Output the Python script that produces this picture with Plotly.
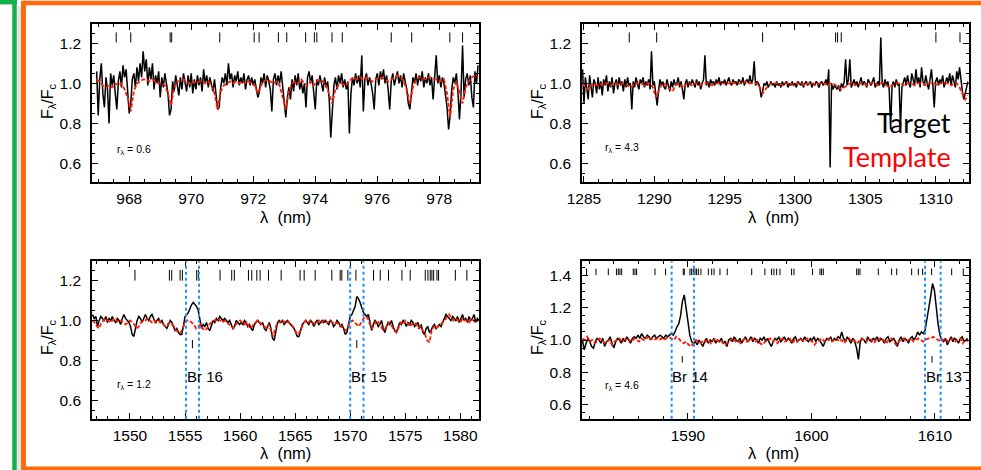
import numpy as np
import plotly.graph_objects as go

W, H = 981, 470

# ---------------- Panel 1 (966.8 - 979.3 nm) ----------------
p1_start, p1_step = 966.95, 0.05
p1_target = [
    1.06, 0.84, 1.02, 1.10, 0.95, 0.88, 1.03, 0.97, 0.80, 1.05, 0.99, 1.04, 0.95, 0.87, 1.01, 1.06, 0.98, 1.09, 1.03, 1.07,
    0.96, 0.85, 0.90, 1.02, 1.05, 0.98, 1.08, 1.01, 1.10, 1.03, 1.16, 1.06, 1.12, 0.99, 1.08, 1.02, 1.10, 0.97, 1.04, 1.00,
    1.06, 0.93, 1.03, 0.98, 1.05, 1.00, 0.95, 0.84, 0.87, 1.01, 0.96, 1.04, 0.99, 0.94, 1.03, 0.97, 1.05, 1.00, 0.96, 1.04,
    0.98, 1.05, 0.95, 1.02, 0.97, 1.04, 0.99, 1.03, 0.96, 1.07, 1.00, 1.04, 0.98, 1.03, 1.00, 0.96, 1.02, 0.95, 0.87, 0.88,
    0.98, 1.03, 1.00, 1.05, 0.99, 1.10, 1.02, 1.05, 0.98, 1.04, 1.01, 1.06, 0.99, 1.03, 1.00, 1.05, 0.97, 1.02, 1.04, 0.99,
    1.03, 0.99, 1.02, 0.97, 0.93, 0.96, 1.03, 1.00, 1.05, 0.98, 1.04, 1.01, 0.97, 0.86, 1.02, 1.05, 0.99, 1.04, 1.00, 1.06,
    0.97, 0.88, 0.83, 0.93, 0.98, 0.92, 1.02, 0.96, 1.04, 0.99, 1.05, 0.97, 1.01, 0.95, 1.00, 0.88, 1.03, 1.06, 1.00, 1.04,
    0.96, 0.87, 1.02, 0.99, 1.04, 1.00, 0.96, 1.03, 0.98, 1.01, 0.92, 0.73, 0.85, 0.99, 1.03, 0.97, 1.04, 1.00, 1.05, 0.98,
    1.02, 0.97, 1.01, 0.75, 0.95, 1.03, 0.99, 1.05, 1.00, 1.04, 0.98, 1.14, 0.86, 1.02, 1.05, 0.99, 1.03, 1.00, 0.95, 0.87,
    1.02, 1.05, 0.99, 1.06, 1.02, 1.07, 1.00, 1.04, 0.97, 0.87, 1.01, 1.05, 0.99, 1.03, 1.06, 1.00, 1.04, 0.98, 1.05, 1.01,
    0.97, 0.90, 0.87, 0.95, 1.03, 1.00, 1.05, 0.99, 1.04, 1.01, 1.06, 0.98, 1.03, 1.00, 1.05, 0.99, 1.03, 0.92, 1.02, 1.14,
    1.00, 1.04, 0.98, 1.03, 1.00, 0.95, 0.88, 0.77, 0.84, 0.97, 1.03, 1.00, 1.05, 0.96, 0.82, 0.95, 1.19, 0.93, 1.02, 1.05,
    0.99, 1.04, 0.93, 0.88, 1.06, 1.00, 1.09,
]
p1_tpl_start, p1_tpl_step = 966.95, 0.1
p1_template = [
    1.02, 1.01, 0.99, 0.98, 0.99, 0.98, 1.00, 0.99, 1.00, 0.97,
    0.93, 0.86, 0.96, 1.00, 1.01, 1.02, 1.02, 1.01, 1.02, 1.01,
    1.00, 1.00, 0.99, 0.95, 0.89, 0.98, 1.01, 1.01, 1.02, 1.01,
    1.00, 1.01, 1.00, 1.01, 1.01, 1.00, 1.01, 0.99, 0.95, 0.87,
    0.96, 0.99, 1.00, 1.01, 1.00, 1.01, 1.00, 1.01, 1.00, 1.01,
    1.00, 0.99, 0.95, 0.99, 1.01, 1.02, 1.01, 1.00, 1.01, 0.99,
    0.93, 0.87, 0.96, 1.00, 1.01, 1.00, 1.02, 1.00, 0.99, 1.01,
    0.99, 1.01, 1.02, 1.01, 0.99, 0.95, 0.90, 0.97, 0.99, 1.00,
    0.99, 1.00, 1.02, 1.03, 1.02, 1.03, 1.02, 1.03, 1.02, 1.01,
    1.02, 1.03, 1.03, 1.02, 1.01, 1.02, 1.03, 1.04, 1.03, 1.01,
    0.97, 0.90, 0.98, 1.02, 1.03, 1.03, 1.02, 1.03, 1.03, 1.02,
    1.02, 1.01, 1.02, 0.95, 0.83, 0.97, 1.01, 0.96, 0.90, 0.98,
    1.01, 1.03, 1.04, 1.03,
]
p1_lines = [967.58, 968.05, 969.32, 969.37, 970.92, 972.03, 972.19, 972.81, 973.08,
            973.69, 973.97, 974.05, 974.54, 974.87, 976.45, 977.11, 978.34, 978.75]

# ---------------- Panel 2 (1284.9 - 1312.3 nm) ----------------
p2_start, p2_step = 1284.9, 0.1
p2_target = [
    1.07, 0.90, 1.03, 0.96, 0.92, 1.04, 0.98, 0.93, 1.02, 1.00,
    0.95, 1.03, 0.97, 1.01, 0.94, 1.02, 0.99, 1.04, 0.96, 1.01,
    0.98, 1.03, 0.95, 1.00, 1.02, 0.97, 1.03, 0.99, 1.01, 0.96,
    1.02, 0.98, 1.03, 0.99, 1.00, 0.87, 1.01, 0.98, 1.03, 1.00,
    0.97, 1.02, 1.00, 1.03, 0.98, 1.01, 0.99, 1.02, 0.97, 1.16,
    0.99, 1.01, 0.95, 0.89, 0.96, 1.02, 0.99, 1.01, 0.98, 0.97,
    1.02, 0.99, 0.96, 1.01, 0.98, 1.02, 0.99, 1.00, 1.03, 0.98,
    1.01, 0.97, 0.92, 1.00, 1.02, 0.98, 1.01, 0.99, 1.02, 1.00,
    0.98, 1.02, 0.99, 1.01, 0.97, 1.00, 1.02, 1.14, 0.99, 1.01,
    0.98, 1.02, 1.00, 1.01, 0.99, 1.02, 1.00, 1.03, 0.99, 1.01,
    1.00, 1.02, 0.99, 1.01, 1.03, 1.00, 0.99, 1.02, 1.00, 1.01,
    0.99, 1.02, 1.01, 1.00, 1.03, 0.99, 1.01, 1.02, 1.00, 1.04,
    1.00, 1.02, 1.11, 0.99, 1.01, 1.00, 0.98, 0.93, 0.96, 1.00,
    0.99, 1.01, 0.98, 1.00, 1.01, 0.99, 1.00, 0.98, 1.01, 0.99,
    1.00, 0.98, 1.01, 0.99, 1.00, 1.01, 0.98, 1.00, 0.99, 1.01,
    0.99, 1.00, 0.98, 1.01, 1.00, 0.99, 1.01, 0.98, 1.00, 1.01,
    0.99, 1.00, 1.01, 0.98, 1.00, 0.99, 1.01, 1.00, 0.98, 1.00,
    1.01, 0.99, 1.00, 1.02, 0.99, 1.07, 0.58, 1.00, 0.97, 0.99,
    0.98, 0.97, 0.99, 0.96, 1.00, 0.98, 1.01, 1.12, 0.99, 1.02,
    1.12, 0.98, 1.00, 1.02, 0.99, 1.01, 0.98, 1.00, 1.03, 0.99,
    1.01, 1.00, 0.98, 1.02, 1.00, 0.99, 1.01, 1.03, 0.98, 1.00,
    1.01, 0.99, 1.23, 1.00, 0.98, 1.02, 0.99, 1.01, 0.97, 0.77,
    0.99, 1.01, 0.98, 1.02, 0.99, 1.00, 0.78, 0.98, 1.01, 1.03,
    0.99, 1.04, 1.00, 0.98, 1.05, 1.01, 0.99, 1.07, 1.00, 1.03,
    0.98, 1.08, 1.01, 0.99, 1.04, 1.00, 0.97, 1.02, 1.07, 0.99,
    0.88, 1.01, 1.03, 0.99, 1.02, 1.00, 1.04, 0.98, 1.01, 1.03,
    1.00, 1.05, 0.99, 1.04, 1.01, 0.98, 1.06, 1.02, 1.08, 1.00,
    0.96, 0.92, 0.95, 0.99, 1.01,
]
p2_tpl_start, p2_tpl_step = 1284.9, 0.2
p2_template = [
    1.00, 0.98, 0.97, 0.99, 1.00, 0.99, 1.00, 0.99, 1.00, 1.00,
    0.99, 1.00, 1.00, 0.99, 1.00, 1.00, 0.99, 0.98, 0.99, 1.00,
    1.00, 1.00, 0.99, 1.00, 1.00, 0.98, 0.93, 0.96, 0.99, 1.00,
    0.99, 0.97, 0.96, 0.99, 1.00, 0.99, 0.98, 1.00, 1.00, 0.99,
    1.00, 1.00, 0.99, 1.00, 1.00, 1.00, 0.99, 1.00, 1.00, 1.00,
    1.00, 1.00, 1.00, 1.01, 1.00, 1.00, 1.00, 1.00, 1.01, 1.00,
    1.00, 1.00, 1.00, 0.98, 0.95, 0.97, 0.99, 1.00, 1.00, 1.00,
    1.00, 0.99, 1.00, 1.00, 1.00, 0.99, 1.00, 1.00, 1.00, 0.99,
    1.00, 1.00, 1.00, 0.99, 1.00, 1.00, 1.00, 0.99, 1.00, 1.00,
    0.99, 0.98, 0.97, 0.98, 0.99, 1.00, 1.00, 0.99, 1.00, 1.00,
    1.00, 0.99, 1.00, 1.00, 1.00, 0.99, 1.00, 1.00, 0.99, 0.98,
    0.99, 1.00, 1.00, 1.00, 0.99, 1.00, 1.00, 1.00, 0.99, 1.00,
    1.00, 1.00, 0.99, 1.00, 1.00, 1.00, 0.99, 1.00, 1.00, 1.00,
    1.00, 0.99, 1.00, 1.00, 0.98, 0.95, 0.92, 0.94,
]
p2_lines = [1288.22, 1290.17, 1297.70, 1302.89, 1303.03, 1303.29, 1310.02, 1311.73]

# ---------------- Panel 3 (1546.6 - 1581.7 nm) ----------------
p3_start, p3_step = 1546.6, 0.15
p3_target = [
    1.03, 1.01, 1.02, 0.97, 1.00, 1.02, 1.01, 1.00, 1.02, 0.99,
    1.01, 1.00, 1.02, 1.00, 0.99, 1.01, 1.00, 0.98, 1.01, 1.03,
    1.01, 1.00, 0.99, 0.97, 0.93, 0.92, 0.97, 1.00, 1.02, 1.01,
    0.99, 1.01, 1.03, 1.01, 1.00, 1.02, 1.03, 1.01, 0.99, 1.00,
    1.01, 0.99, 1.00, 0.98, 0.97, 0.96, 0.98, 1.00, 0.99, 0.97,
    0.95, 0.96, 0.94, 0.93, 0.93, 0.97, 1.02, 1.03, 1.04, 1.06,
    1.08, 1.09, 1.08, 1.07, 1.05, 1.00, 0.96, 0.98, 0.97, 0.99,
    0.96, 0.95, 0.98, 1.00, 0.99, 1.01, 1.00, 1.02, 1.01, 1.00,
    1.01, 1.00, 0.99, 1.00, 0.98, 0.96, 0.97, 1.00, 0.99, 0.98,
    0.99, 0.98, 1.00, 0.99, 0.97, 0.98, 0.96, 0.95, 0.98, 0.99,
    1.00, 0.99, 0.98, 0.99, 0.96, 0.95, 0.97, 0.99, 0.96, 0.91,
    0.90, 0.95, 0.99, 1.00, 0.99, 1.00, 0.98, 0.99, 1.00, 0.99,
    0.98, 0.97, 0.96, 0.94, 0.92, 0.92, 0.95, 0.98, 0.99, 1.00,
    0.99, 0.98, 1.00, 0.99, 0.97, 0.99, 1.00, 0.98, 0.99, 1.00,
    0.99, 1.00, 0.99, 0.98, 1.00, 0.99, 0.97, 0.98, 1.00, 0.99,
    0.97, 0.98, 0.96, 0.93, 0.94, 0.99, 1.02, 1.03, 1.05, 1.07,
    1.12, 1.11, 1.09, 1.06, 1.04, 1.03, 1.02, 1.03, 0.99, 0.95,
    0.98, 1.00, 0.99, 0.97, 0.98, 1.00, 0.96, 0.94, 0.97, 0.99,
    0.98, 1.00, 0.97, 0.95, 0.94, 0.97, 0.99, 0.98, 1.00, 0.99,
    0.97, 0.99, 0.98, 1.00, 0.99, 0.97, 0.98, 0.99, 0.96, 0.98,
    0.94, 0.93, 0.96, 0.97, 0.94, 0.95, 0.97, 0.98, 0.96, 0.97,
    0.98, 0.97, 0.99, 1.01, 1.03, 1.02, 1.01, 1.00, 1.02, 1.01,
    1.00, 1.02, 0.99, 1.01, 1.03, 1.00, 1.01, 0.99, 1.02, 1.00,
    1.01, 1.03, 0.99, 1.01, 1.00,
]
p3_tpl_start, p3_tpl_step = 1546.6, 0.2
p3_template = [
    1.00, 0.99, 0.97, 0.96, 0.99, 1.00, 1.01, 1.00, 0.99, 1.00,
    1.01, 1.00, 0.99, 1.00, 0.99, 0.98, 0.99, 1.00, 0.99, 0.98,
    0.96, 0.97, 0.99, 1.00, 1.00, 1.01, 1.00, 0.99, 1.00, 0.99,
    1.00, 0.99, 0.98, 0.97, 0.98, 0.99, 0.98, 0.97, 0.95, 0.94,
    0.94, 0.96, 0.99, 1.00, 1.00, 0.99, 0.98, 0.96, 0.97, 0.98,
    0.96, 0.95, 0.96, 0.98, 0.99, 1.00, 1.00, 1.01, 1.00, 0.99,
    1.00, 0.99, 0.98, 0.97, 0.96, 0.98, 0.99, 1.00, 0.99, 0.98,
    0.99, 0.97, 0.96, 0.98, 0.99, 1.00, 0.99, 0.98, 0.97, 0.96,
    0.98, 0.95, 0.92, 0.96, 0.99, 0.99, 1.00, 0.99, 1.00, 0.99,
    0.98, 0.97, 0.95, 0.93, 0.94, 0.97, 0.99, 1.00, 0.99, 1.00,
    0.99, 0.98, 0.99, 1.00, 0.99, 1.00, 0.99, 0.99, 1.00, 0.99,
    0.98, 0.99, 0.98, 0.97, 0.96, 0.95, 0.97, 0.99, 1.00, 0.99,
    0.98, 0.97, 0.99, 1.01, 1.02, 1.01, 0.98, 0.96, 0.98, 1.00,
    0.99, 0.97, 0.95, 0.96, 0.98, 0.99, 0.97, 0.95, 0.94, 0.97,
    0.99, 0.98, 1.00, 0.99, 0.97, 0.98, 0.99, 0.98, 0.96, 0.97,
    0.95, 0.93, 0.90, 0.89, 0.95, 0.97, 0.96, 0.97, 0.98, 0.99,
    1.00, 1.02, 1.03, 1.01, 1.00, 1.01, 1.00, 0.99, 1.01, 1.00,
    1.00, 0.99, 1.01, 1.00, 0.99, 1.00,
]
p3_lines = [1550.45, 1553.58, 1553.79, 1554.55, 1554.76, 1556.06, 1556.21, 1558.18, 1559.24,
            1559.48, 1560.76, 1561.06, 1561.52, 1561.82, 1562.58, 1563.73, 1565.45, 1565.82,
            1566.82, 1568.33, 1569.09, 1569.24, 1569.79, 1570.52, 1572.12, 1572.73, 1573.48,
            1574.70, 1575.45, 1576.82, 1577.06, 1577.27, 1577.42, 1577.58, 1577.88, 1578.03,
            1579.55, 1580.60]
p3_br_wl = [1555.67, 1570.60]
p3_br_names = ["Br 16", "Br 15"]
p3_windows = [1555.09, 1556.27, 1570.00, 1571.21]

# ---------------- Panel 4 (1581.4 - 1612.7 nm) ----------------
p4_start, p4_step = 1581.45, 0.15
p4_target = [
    1.00, 0.94, 0.98, 1.01, 0.99, 0.96, 0.95, 0.99, 1.01, 1.00,
    0.98, 1.01, 0.96, 0.99, 1.00, 1.02, 0.98, 0.95, 0.99, 1.01,
    1.00, 0.98, 1.01, 0.99, 1.02, 1.00, 0.98, 1.01, 1.02, 1.01,
    1.03, 1.01, 1.04, 1.02, 1.01, 1.03, 1.02, 1.00, 1.02, 1.03,
    1.01, 1.02, 1.03, 1.02, 1.01, 1.03, 1.02, 1.03, 1.04, 1.03,
    1.05, 1.08, 1.10, 1.15, 1.24, 1.28, 1.20, 1.10, 1.03, 0.99,
    0.98, 0.99, 0.97, 1.00, 0.98, 0.96, 0.99, 1.01, 0.98, 1.00,
    0.99, 1.01, 0.98, 1.00, 0.99, 1.01, 0.98, 0.99, 0.96, 1.00,
    1.01, 0.99, 1.02, 1.00, 0.99, 1.01, 0.98, 1.00, 1.02, 0.99,
    1.00, 1.02, 0.99, 1.01, 1.00, 0.98, 1.01, 1.00, 1.02, 0.99,
    1.01, 0.98, 0.96, 0.99, 1.01, 1.00, 1.02, 0.99, 1.00, 1.02,
    0.99, 1.01, 1.00, 0.98, 1.01, 1.02, 0.99, 1.00, 1.01, 0.99,
    1.02, 1.00, 0.99, 1.01, 1.00, 1.02, 0.99, 1.01, 1.00, 0.98,
    0.96, 0.99, 1.01, 1.00, 1.02, 0.99, 1.01, 1.00, 1.02, 1.01,
    1.05, 1.01, 0.99, 1.02, 1.00, 0.98, 1.01, 0.99, 0.95, 0.88,
    0.99, 1.01, 1.00, 0.98, 1.02, 1.00, 0.99, 1.01, 1.00, 1.02,
    0.99, 1.01, 1.00, 0.98, 1.01, 1.02, 0.99, 1.00, 1.01, 0.99,
    0.96, 1.00, 1.02, 0.99, 1.01, 1.00, 0.98, 1.01, 1.02, 1.00,
    1.02, 1.05, 1.03, 1.05, 1.04, 1.06, 1.12, 1.20, 1.27, 1.35,
    1.31, 1.20, 1.10, 1.03, 1.00, 0.99, 1.01, 0.97, 1.00, 1.02,
    0.99, 1.01, 1.00, 0.98, 1.01, 1.02, 0.99, 1.00, 1.01,
]
p4_tpl_start, p4_tpl_step = 1581.45, 0.2
p4_template = [
    1.01, 1.00, 1.02, 0.99, 1.00, 0.98, 0.99, 1.01, 1.00, 0.98,
    0.99, 1.00, 0.97, 0.99, 1.00, 1.01, 0.99, 1.00, 1.01, 1.00,
    0.99, 1.01, 1.00, 0.99, 1.01, 1.00, 1.02, 1.00, 1.01, 1.00,
    1.01, 1.00, 1.01, 1.00, 1.01, 1.02, 1.01, 1.00, 1.02, 1.01,
    0.99, 0.98, 0.99, 0.97, 0.96, 0.98, 1.00, 0.99, 0.98, 1.00,
    0.99, 1.00, 0.98, 1.00, 1.01, 0.99, 1.00, 0.98, 0.97, 0.99,
    1.00, 1.01, 0.99, 1.00, 0.98, 1.00, 1.01, 0.99, 1.00, 1.01,
    0.99, 1.00, 0.98, 0.97, 0.99, 1.00, 1.01, 0.99, 1.00, 0.98,
    1.00, 1.01, 0.99, 1.00, 1.01, 0.98, 1.00, 0.99, 1.01, 1.00,
    0.99, 1.01, 1.00, 0.99, 0.97, 0.99, 1.00, 1.01, 0.99, 1.00,
    1.01, 0.99, 1.00, 1.01, 0.99, 1.00, 0.98, 1.00, 1.01, 0.99,
    1.00, 0.98, 0.99, 1.01, 1.00, 0.99, 1.01, 1.00, 0.98, 1.00,
    1.01, 0.99, 1.00, 0.98, 1.00, 1.01, 0.99, 0.97, 0.99, 1.00,
    1.01, 0.99, 1.00, 1.01, 0.99, 1.00, 1.01, 1.00, 0.99, 1.00,
    1.01, 1.01, 1.02, 1.01, 1.00, 0.99, 1.00, 1.01, 0.99, 1.00,
    1.01, 0.99, 1.00, 1.01, 0.98, 1.00, 0.99,
]
p4_lines = [1581.79, 1582.55, 1583.55, 1584.22, 1584.36, 1584.49, 1584.63, 1585.57, 1585.71,
            1585.84, 1587.33, 1588.19, 1589.62, 1589.70, 1590.16, 1590.30, 1590.43, 1590.57,
            1590.70, 1590.84, 1591.05, 1591.65, 1591.92, 1592.11, 1592.59, 1593.18, 1595.16,
            1596.23, 1596.77, 1596.96, 1597.18, 1597.45, 1598.39, 1598.58, 1600.09, 1600.69,
            1600.82, 1600.96, 1603.66, 1603.79, 1603.93, 1605.41, 1606.49, 1606.90, 1608.11,
            1608.65, 1609.00, 1609.73, 1611.35, 1612.29]
p4_br_wl = [1589.54, 1609.76]
p4_br_names = ["Br 14", "Br 13"]
p4_windows = [1588.68, 1590.49, 1609.19, 1610.46]

r_values = ["0.6", "4.3", "1.2", "4.6"]

# ---------------- layout helpers (pixel boxes) ----------------
boxes = {1: (92, 479, 24, 182), 2: (582, 968.7, 24, 182),
         3: (92, 479, 261.3, 418.7), 4: (582, 968.7, 261.3, 418.7)}
xranges = {1: [966.8, 979.28], 2: [1284.86, 1312.35], 3: [1546.55, 1581.7], 4: [1581.42, 1612.73]}
yranges = {1: [0.507, 1.297], 2: [0.507, 1.297], 3: [0.507, 1.297], 4: [0.512, 1.488]}
xdt = {1: (2, 0.5), 2: (5, 1), 3: (5, 1), 4: (10, 2)}
tick_y = {1: (1.205, 1.255), 2: (1.205, 1.255), 3: (1.20, 1.254), 4: (1.402, 1.443)}


def px(x):
    return x / W


def py(y):
    return 1 - y / H


panels = {
    1: (p1_start, p1_step, p1_target, p1_tpl_start, p1_tpl_step, p1_template, p1_lines),
    2: (p2_start, p2_step, p2_target, p2_tpl_start, p2_tpl_step, p2_template, p2_lines),
    3: (p3_start, p3_step, p3_target, p3_tpl_start, p3_tpl_step, p3_template, p3_lines),
    4: (p4_start, p4_step, p4_target, p4_tpl_start, p4_tpl_step, p4_template, p4_lines),
}

fig = go.Figure()
AXFONT = dict(family="Liberation Sans, Arial, sans-serif", size=15.5, color="black")

for i, (ts, tstep, tv, ps, pstep, pv, lines) in panels.items():
    xa = "x" if i == 1 else f"x{i}"
    ya = "y" if i == 1 else f"y{i}"
    tx = ts + tstep * np.arange(len(tv))
    px_ = ps + pstep * np.arange(len(pv))
    fig.add_trace(go.Scatter(x=tx, y=tv, mode="lines", line=dict(color="black", width=1.5),
                             xaxis=xa, yaxis=ya, showlegend=False, hoverinfo="skip"))
    fig.add_trace(go.Scatter(x=px_, y=pv, mode="lines",
                             line=dict(color="#ff1a00", width=1.8, dash="4px,2px"),
                             xaxis=xa, yaxis=ya, showlegend=False, hoverinfo="skip"))
    lx, ly = [], []
    y0, y1 = tick_y[i]
    for w in lines:
        lx += [w, w, None]
        ly += [y0, y1, None]
    fig.add_trace(go.Scatter(x=lx, y=ly, mode="lines", line=dict(color="black", width=1),
                             xaxis=xa, yaxis=ya, showlegend=False, hoverinfo="skip"))

# Brackett line markers and windows
for i, br_wl, br_names, wins, ylab, ymk in [
        (3, p3_br_wl, p3_br_names, p3_windows, 0.72, (0.861, 0.902)),
        (4, p4_br_wl, p4_br_names, p4_windows, 0.773, (0.86, 0.90))]:
    xa, ya = f"x{i}", f"y{i}"
    mx, my = [], []
    for w in br_wl:
        mx += [w, w, None]
        my += [ymk[0], ymk[1], None]
    fig.add_trace(go.Scatter(x=mx, y=my, mode="lines", line=dict(color="black", width=1),
                             xaxis=xa, yaxis=ya, showlegend=False, hoverinfo="skip"))
    for w in wins:
        fig.add_shape(type="line", xref=xa, yref=f"{ya} domain", x0=w, x1=w, y0=0, y1=1,
                      line=dict(color="#1e8fff", width=2, dash="dot"))
    for k, name in enumerate(br_names):
        fig.add_annotation(x=wins[2 * k] - 0.1, y=ylab, xref=xa, yref=ya, text=name,
                           showarrow=False, xanchor="left", yanchor="middle",
                           font=dict(family="Liberation Sans, Arial", size=15, color="black"))

layout = dict(width=W, height=H, margin=dict(l=0, r=0, t=0, b=0, autoexpand=False),
              paper_bgcolor="white", plot_bgcolor="white", showlegend=False)

for i, (x0, x1, yt, yb) in boxes.items():
    sx = "" if i == 1 else str(i)
    major, minor = xdt[i]
    layout[f"xaxis{sx}"] = dict(
        domain=[px(x0), px(x1)], range=xranges[i], anchor=f"y{sx}", automargin=False,
        showline=True, linecolor="black", linewidth=1.5, mirror="allticks",
        ticks="inside", ticklen=6, tickwidth=1.2, tickcolor="black",
        dtick=major, tick0=0, showgrid=False, zeroline=False, tickfont=AXFONT,
        ticklabelstandoff=2,
        minor=dict(ticks="inside", ticklen=3, tickcolor="black", dtick=minor, tick0=0, showgrid=False))
    layout[f"yaxis{sx}"] = dict(
        domain=[py(yb), py(yt)], range=yranges[i], anchor=f"x{sx}", automargin=False,
        showline=True, linecolor="black", linewidth=1.5, mirror="allticks",
        ticks="inside", ticklen=6, tickwidth=1.2, tickcolor="black",
        dtick=0.2, tick0=0.6, tickformat=".1f", showgrid=False, zeroline=False, tickfont=AXFONT,
        ticklabelstandoff=6,
        minor=dict(ticks="inside", ticklen=3, tickcolor="black", dtick=0.05, tick0=0.6, showgrid=False))

fig.update_layout(**layout)

TFONT = dict(family="Liberation Sans, Arial, sans-serif", size=16, color="black")
ann = []
# axis titles
for (xc, yc) in [(48, 101), (538, 101), (48, 337), (538, 337)]:
    ann.append(dict(x=px(xc), y=py(yc), xref="paper", yref="paper", text="F<sub>λ</sub>/F<sub>c</sub>",
                    textangle=-90, showarrow=False, xanchor="center", yanchor="middle", font=TFONT))
for (xc, yc) in [(285, 217), (773, 217), (285, 453), (773, 453)]:
    ann.append(dict(x=px(xc), y=py(yc), xref="paper", yref="paper", text="λ  (nm)",
                    showarrow=False, xanchor="center", yanchor="middle",
                    font=dict(family="Liberation Sans, Arial", size=16.5, color="black")))
# r_lambda labels
for (xc, yc), rv in zip([(115, 150), (603, 148), (115, 385), (603, 386)], r_values):
    ann.append(dict(x=px(xc), y=py(yc), xref="paper", yref="paper", text=f"r<sub>λ</sub> = {rv}",
                    showarrow=False, xanchor="left", yanchor="middle",
                    font=dict(family="Liberation Sans, Arial", size=10.5, color="black")))
# legend words
ann.append(dict(x=px(953), y=py(122), xref="paper", yref="paper", text="Target", showarrow=False,
                xanchor="right", yanchor="middle", font=dict(family="Lato, Open Sans", size=27, color="black")))
ann.append(dict(x=px(953), y=py(156), xref="paper", yref="paper", text="Template", showarrow=False,
                xanchor="right", yanchor="middle", font=dict(family="Lato, Open Sans", size=27, color="#ff0000")))
for a in ann:
    fig.add_annotation(**a)

# frame decorations (green & orange borders)
GREEN, ORANGE = "#14b04c", "#ff6a0a"
fig.add_shape(type="rect", xref="paper", yref="paper", x0=px(17), x1=px(21), y0=py(470), y1=py(6),
              line=dict(width=0), fillcolor="#e6e6e6")
fig.add_shape(type="line", xref="paper", yref="paper", x0=px(0), x1=px(17), y0=py(2.2), y1=py(2.2),
              line=dict(color=GREEN, width=4.5))
fig.add_shape(type="line", xref="paper", yref="paper", x0=px(14.5), x1=px(14.5), y0=py(0), y1=py(470),
              line=dict(color=GREEN, width=4.5))
fig.add_shape(type="line", xref="paper", yref="paper", x0=px(23.5), x1=px(981), y0=py(3), y1=py(3),
              line=dict(color=ORANGE, width=4.5))
fig.add_shape(type="line", xref="paper", yref="paper", x0=px(23.5), x1=px(23.5), y0=py(0.8), y1=py(470),
              line=dict(color=ORANGE, width=5))
fig.add_shape(type="line", xref="paper", yref="paper", x0=px(21), x1=px(981), y0=py(468.5), y1=py(468.5),
              line=dict(color=ORANGE, width=4))

fig.write_html("out.html")
